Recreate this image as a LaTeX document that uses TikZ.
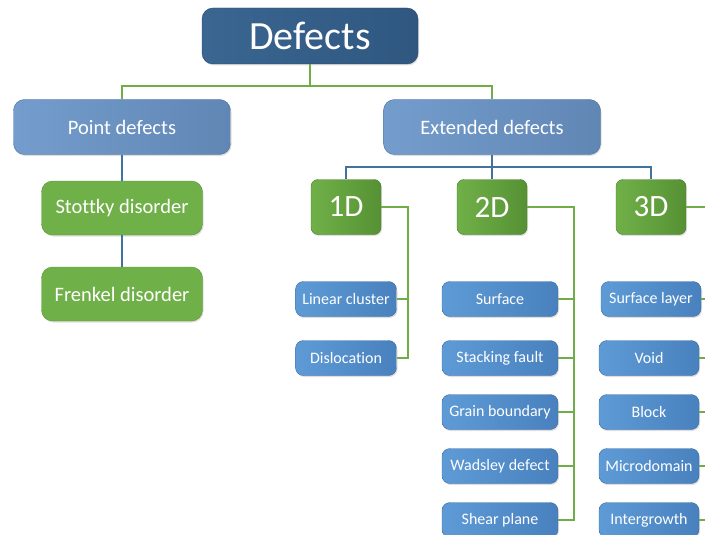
\documentclass[tikz,border=0pt]{standalone}
\usepackage{fontspec}
\setmainfont[Ligatures=CommonOff]{Carlito}
\usepackage{tikz}
\usetikzlibrary{positioning, shadows}
\usepackage{xcolor}
\definecolor{rootblue}{RGB}{58, 102, 145}
\definecolor{rootdark}{RGB}{47, 87, 128}
\definecolor{midblue}{RGB}{116, 157, 205}
\definecolor{middark}{RGB}{96, 134, 180}
\definecolor{leafblue}{RGB}{94, 155, 214}
\definecolor{leafdark}{RGB}{72, 129, 190}
\definecolor{dimgreen}{RGB}{112, 176, 72}
\definecolor{dimdark}{RGB}{86, 145, 52}
\definecolor{linkgreen}{RGB}{112, 173, 71}
\definecolor{linkblue}{RGB}{68, 114, 160}

\tikzset{
  box/.style={rounded corners=11pt, text=white, align=center, inner sep=0pt,
    drop shadow={shadow xshift=1pt, shadow yshift=-1.5pt, opacity=0.25}},
  rootbox/.style={box, left color=rootblue, right color=rootdark, draw=rootdark!80!black,
    minimum width=216, minimum height=56, font=\fontsize{40}{44}\selectfont},
  midbox/.style={box, left color=midblue, right color=middark, draw=middark!85!black,
    minimum width=217, minimum height=55, font=\fontsize{20.5}{23}\selectfont},
  pointbox/.style={box, fill=dimgreen, draw=dimgreen!85!black,
    minimum width=161, minimum height=54, font=\fontsize{20.5}{23}\selectfont},
  dimbox/.style={box, rounded corners=7pt, left color=dimgreen, right color=dimdark, draw=dimdark!85!black,
    minimum width=70, minimum height=55, font=\fontsize{31}{34}\selectfont},
  leafbox/.style={box, rounded corners=8pt, left color=leafblue, right color=leafdark, draw=leafdark!85!black,
    minimum height=35, font=\fontsize{16}{18}\selectfont},
  greenline/.style={draw=linkgreen, line width=2pt},
  blueline/.style={draw=linkblue, line width=2pt}
}

\begin{document}
\begin{tikzpicture}[x=1pt, y=-1pt]
        \clip (0,0) rectangle (705,535);

        % ---- TOP LEVEL ----
        \node[rootbox] (defects) at (310, 36) {Defects};
        \node[midbox] (point) at (122, 127) {Point defects};
        \node[midbox] (extended) at (492, 127) {Extended defects};
        \coordinate (split) at (310, 86);
        \draw[greenline] (defects.south) -- (split) -| (point.north);
        \draw[greenline] (split) -| (extended.north);

        % ---- POINT DEFECTS ----
        \node[pointbox] (stottky) at (122, 208) {Stottky disorder};
        \node[pointbox] (frenkel) at (122, 294) {Frenkel disorder};
        \draw[blueline] (point.south) -- (stottky.north);
        \draw[blueline] (stottky.south) -- (frenkel.north);

        % ---- EXTENDED DEFECTS ----
        \node[dimbox] (oneD) at (346, 207) {1D};
        \node[dimbox] (twoD) at (492, 207) {2D};
        \node[dimbox] (threeD) at (651, 207) {3D};
        \coordinate (fork) at (492, 167);
        \draw[blueline] (extended.south) -- (fork) -| (oneD.north);
        \draw[blueline] (fork) -| (threeD.north);
        \draw[blueline] (fork) -- (twoD.north);

        % 1D
        \node[leafbox, minimum width=101] (linear) at (346, 299) {Linear cluster};
        \node[leafbox, minimum width=101] (disloc) at (346, 358) {Dislocation};
        \coordinate (trunkA) at (408, 207);
        \draw[greenline] (oneD.east) -- (trunkA) |- (disloc.east);
        \draw[greenline] (linear.east) -- (linear.east -| trunkA);

        % 2D
        \node[leafbox, minimum width=116] (surface) at (500, 299) {Surface};
        \node[leafbox, minimum width=116] (stacking) at (500, 358) {Stacking fault};
        \node[leafbox, minimum width=116] (grain) at (500, 412) {Grain boundary};
        \node[leafbox, minimum width=116] (wadsley) at (500, 466) {Wadsley defect};
        \node[leafbox, minimum width=116] (shear) at (500, 520) {Shear plane};
        \coordinate (trunkB) at (574, 207);
        \draw[greenline] (twoD.east) -- (trunkB) |- (shear.east);
        \foreach \n in {surface, stacking, grain, wadsley}
          \draw[greenline] (\n.east) -- (\n.east -| trunkB);

        % 3D
        \node[leafbox, minimum width=100] (layer) at (651, 299) {Surface layer};
        \node[leafbox, minimum width=100] (void) at (649, 358) {Void};
        \node[leafbox, minimum width=100] (block) at (649, 412) {Block};
        \node[leafbox, minimum width=100] (micro) at (649, 466) {Microdomain};
        \node[leafbox, minimum width=100] (inter) at (649, 520) {Intergrowth};
        \coordinate (trunkC) at (716, 207);
        \draw[greenline] (threeD.east) -- (trunkC) |- (inter.east);
        \foreach \n in {layer, void, block, micro}
          \draw[greenline] (\n.east) -- (\n.east -| trunkC);
      \end{tikzpicture}
\end{document}
